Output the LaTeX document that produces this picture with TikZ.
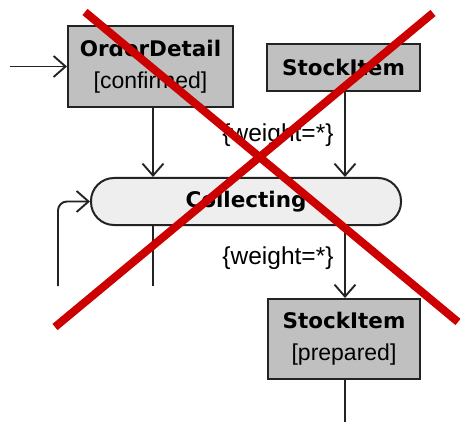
\documentclass[tikz,border=0pt]{standalone}
\usepackage{fontspec}
\setmainfont{Liberation Sans}
\newfontfamily\headf{DejaVu Sans}[BoldFont={DejaVu Sans Bold}]
\usetikzlibrary{arrows.meta}
\definecolor{boxgray}{RGB}{192,192,192}
\definecolor{pillgray}{RGB}{238,238,238}
\definecolor{edgec}{RGB}{35,35,35}
\definecolor{crossred}{RGB}{204,0,0}
\newcommand{\hd}[1]{{\headf\bfseries\fontsize{21.5}{33}\selectfont #1}}
\tikzset{
  objbox/.style={draw=edgec, line width=2pt, fill=boxgray, inner sep=0pt, align=center,
    font=\fontsize{23}{33}\selectfont},
  pill/.style={draw=edgec, line width=2pt, fill=pillgray, inner sep=0pt, rounded corners=23pt},
  flow/.style={draw=edgec, line width=1.9pt, -{Straight Barb[length=12pt,width=21pt,line width=1.9pt]}},
  plainflow/.style={draw=edgec, line width=1.9pt},
  guard/.style={font=\fontsize{24.5}{28}\selectfont, inner sep=0pt},
  cross/.style={draw=crossred, line width=8pt}
}
\begin{document}
\begin{tikzpicture}[x=1pt,y=-1pt]
\useasboundingbox (0,0) rectangle (460,422);
\node[objbox, minimum width=165pt, minimum height=81pt] (od) at (150.5,66.5) {\hd{OrderDetail}\\[-1pt]{[confirmed]}};
\node[objbox, minimum width=153pt, minimum height=47pt] (si) at (343.5,67.5) {\hd{StockItem}};
\node[pill, minimum width=310pt, minimum height=47pt] (col) at (246,201.5) {\hd{Collecting}};
\node[objbox, minimum width=152pt, minimum height=80pt] (sp) at (344,339) {\hd{StockItem}\\[-1pt]{[prepared]}};
\coordinate (in) at (10,66.5);
\coordinate (loopb) at (58,286);
\coordinate (colb) at (153,286);
\coordinate (spb) at (344,422);
\node[guard] (g1) at (278,135) {\{weight=*\}};
\node[guard] (g2) at (278,258) {\{weight=*\}};
\draw[flow] (in) -- (od.west);
\draw[flow] (od.south -| 153,0) -- (col.north -| 153,0);
\draw[flow] (si.south -| 345,0) -- (col.north -| 345,0);
\draw[flow] (col.south -| 345,0) -- (sp.north -| 345,0);
\draw[plainflow] (sp.south -| 345,0) -- (spb -| 345,0);
\draw[plainflow] (col.south -| colb) -- (colb);
\draw[flow, rounded corners=9pt] (loopb) |- (col.west);
\draw[cross] (85,12) -- (458,322);
\draw[cross] (433,13) -- (55,327);
\end{tikzpicture}
\end{document}
